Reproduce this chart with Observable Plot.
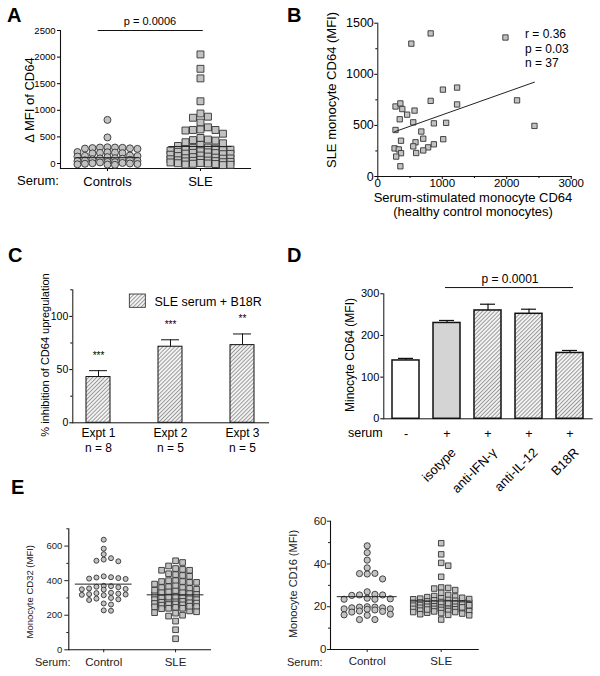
<!DOCTYPE html>
<html><head><meta charset="utf-8">
<script src="https://cdn.jsdelivr.net/npm/d3@7"></script>
<script src="https://cdn.jsdelivr.net/npm/@observablehq/plot@0.6"></script>
<style>
body{margin:0;background:#fff;}
#fig{position:relative;width:600px;height:676px;overflow:hidden;background:#fff;}
#fig > svg{position:absolute;}
</style></head><body><div id="fig"></div>
<script>
// ---------------- DATA ----------------
// Panel A
const groupsA = ["Controls", "SLE"];
const cd64Controls = [820, 490, 305, 300, 300, 295, 290, 285, 280, 275, 215, 210, 205, 200, 195, 190, 150, 145, 140, 130, 120, 100, 95, 90, 80, 70, 60, 50, 45, 30, 25, 20, 10, 5, 0, -5, -10, -15, -20, -25];
const cd64SLE = [2050, 1780, 1600, 1170, 940, 880, 860, 770, 680, 640, 630, 630, 620, 560, 480, 450, 440, 430, 400, 380, 350, 330,
  300, 290, 280, 270, 260, 250, 240, 230, 220, 210, 200, 195, 185, 180, 175, 165, 150, 140, 130, 120, 110, 100, 95, 90, 80, 70, 60, 55, 50, 45, 40, 30, 25, 20, 10, 5, 0, -5, -10, -20, -25, -30];
const centerA = [110, 320];
const pTextA = "p = 0.0006";
// Panel B
const bStimCD64 = [820, 520, 1980, 1010, 1230, 820, 1230, 2160, 2430, 275, 350, 380, 570, 455, 340, 550, 275, 870, 1060, 675, 360, 705, 585, 1015, 550, 870, 780, 260, 325, 705, 595, 360, 285, 350];
const bSLECD64 = [1400, 1300, 1360, 850, 870, 740, 705, 745, 495, 685, 715, 660, 645, 605, 560, 530, 455, 520, 525, 440, 350, 370, 335, 365, 295, 315, 285, 275, 265, 255, 230, 228, 195, 100];
const statsB = ["r = 0.36", "p = 0.03", "n = 37"];
// Panel C
const exptsC = ["Expt 1", "Expt 2", "Expt 3"];
const nC = ["n = 8", "n = 5", "n = 5"];
const inhibC = [43, 71.5, 73];
const semC = [6, 6.5, 10.5];
const starsC = ["***", "***", "**"];
// Panel D
const condsD = ["none", "isotype", "anti-IFN-\u03B3", "anti-IL-12", "B18R"];
const serumD = ["-", "+", "+", "+", "+"];
const meanD = [140, 230, 260, 252, 158];
const semD = [5, 6, 15, 11, 6];
const pLineD = [315];
const pTextD = "p = 0.0001";
// Panel E
const groupsE = ["Control", "SLE"];
const cd32Control = [637, 585, 553, 530, 522, 515, 512, 425, 420, 418, 415, 412, 410, 370, 368, 365, 362, 355, 352, 350, 348, 330, 328, 325, 322, 320, 318, 316, 300, 296, 292, 288, 268, 262, 228, 226];
const cd32SLE = [515, 505, 485, 470, 465, 460, 460, 440, 435, 430, 425, 400, 400, 395, 395, 390, 390, 370, 365, 360, 360, 355, 350,
  340, 335, 330, 330, 325, 320, 318, 300, 300, 295, 290, 290, 285, 282, 280, 275, 270, 268, 265, 262, 260, 258, 250, 248, 245, 240, 240, 238, 225, 220, 215, 212, 200, 195, 166, 116, 64, 310, 345, 380, 305, 272, 252];
const centerCD32 = [380, 318];
const cd16Control = [48.5, 45.3, 41.8, 38.2, 35.6, 35.3, 35.5, 33.0, 27.0, 25.8, 25.5, 25.5, 25.3, 24.0, 23.5, 23.5, 23.7, 20.0, 19.8, 19.5, 19.5, 19.0, 19.8, 19.0, 18.8, 18.5, 18.0, 17.5, 17.8, 16.5, 16.0, 16.2, 14.0, 14.0];
const cd16SLE = [49.7, 44.5, 40.5, 39.2, 34.0, 29.0, 28.8, 28.5, 27.8, 26.5, 25.5, 25.0, 24.8, 24.5, 24.0, 23.8, 23.5, 23.2, 23.0, 22.8, 22.5, 22.3, 22.0, 22.0, 21.8, 21.5, 21.5, 21.2, 21.0, 21.0, 20.8, 20.5, 20.5, 20.2, 20.0, 20.0, 19.8, 19.5, 19.5, 19.2, 19.0, 19.0, 18.8, 18.5, 18.5, 18.2, 18.0, 18.0, 17.8, 17.5, 17.5, 17.2, 17.0, 16.8, 16.5, 16.2, 16.0, 14.0, 22.2, 21.7, 20.7, 19.7, 23.6, 24.2, 18.7];
const centerCD16 = [24.7, 22.7];

// ---------------- HELPERS ----------------
const FONT = '"Liberation Sans", Arial, sans-serif';
const fmt = d3.format("d");
const fig = document.getElementById("fig");
const baseStyle = {fontFamily: FONT, fontSize: "10px", color: "#000", background: "none", overflow: "visible"};
function place(svg, left, top) { svg.style.left = left + "px"; svg.style.top = top + "px"; fig.append(svg); }
// simple column-scatter (beeswarm) layout in pixel space
function swarm(values, pxPerY, step, minDist, maxK) {
  const order = d3.range(values.length).sort((a, b) => values[b] - values[a]);
  const placed = [], out = new Array(values.length);
  for (const i of order) {
    const py = values[i] * pxPerY;
    let best = 0, bestD = -1;
    for (let k = 0; k <= 2 * maxK; k++) {
      const m = k === 0 ? 0 : (k % 2 ? (k + 1) / 2 : -k / 2);
      const px = m * step;
      let dmin = Infinity;
      for (const p of placed) dmin = Math.min(dmin, Math.hypot(p[0] - px, p[1] - py));
      if (dmin >= minDist) { best = px; bestD = Infinity; break; }
      if (dmin > bestD) { bestD = dmin; best = px; }
    }
    placed.push([best, py]);
    out[i] = best;
  }
  return out;
}
function columnPoints(values, g, geo, step, minDist, maxK) {
  const pxY = (geo.h - geo.mt - geo.mb) / (geo.y[1] - geo.y[0]);
  const pxX = (geo.w - geo.ml - geo.mr) / (geo.x[1] - geo.x[0]);
  const off = swarm(values, pxY, step, minDist, maxK);
  return values.map((v, i) => ({x: g + off[i] / pxX, v}));
}
function dotPlot(geo, groups, ctrl, sle, centers, opt) {
  const pc = columnPoints(ctrl, 0, geo, opt.stepC, opt.minC, opt.kC);
  const ps = columnPoints(sle, 1, geo, opt.stepS, opt.minS, opt.kS);
  return Plot.plot({
    width: geo.w, height: geo.h, marginLeft: geo.ml, marginRight: geo.mr, marginTop: geo.mt, marginBottom: geo.mb,
    x: {domain: geo.x}, y: {domain: geo.y},
    style: {...baseStyle, color: opt.color || "#000"},
    marks: [
      Plot.axisY({ticks: opt.yticks, tickSize: opt.yTickSize, tickPadding: opt.yPad, fontSize: opt.yFont, tickFormat: fmt, label: null}),
      ...(opt.yminor ? [Plot.axisY({ticks: opt.yminor, tickSize: 2, tickFormat: () => "", label: null})] : []),
      Plot.axisX({ticks: [0, 1], tickSize: 3, tickPadding: opt.xPad, fontSize: opt.xFont, tickFormat: i => groups[i], label: null}),
      Plot.frame({anchor: "left", stroke: "#111", strokeWidth: 1.1}),
      Plot.frame({anchor: "bottom", stroke: "#111", strokeWidth: 1.1}),
      Plot.dot(pc, {x: "x", y: "v", r: opt.rC, fill: "#c2c2c2", stroke: "#333", strokeWidth: 0.9}),
      Plot.dot(ps, {x: "x", y: "v", r: opt.rS, symbol: "square", fill: "#c2c2c2", stroke: "#333", strokeWidth: 0.9}),
      Plot.ruleY(centers, {x1: (d, i) => i - opt.half, x2: (d, i) => i + opt.half, stroke: "#222", strokeWidth: 1}),
      ...(opt.extra || [])
    ]
  });
}

// ---------------- PANEL A ----------------
const geoA = {w: 300, h: 220, ml: 60, mr: 50, mt: 30, mb: 52, y: [-94, 2500], x: [-0.505, 1.538]};
place(dotPlot(geoA, groupsA, cd64Controls, cd64SLE, centerA, {
  stepC: 7.5, minC: 6, kC: 4, stepS: 7.5, minS: 6.5, kS: 4, rC: 3.5, rS: 3.9, half: 0.34,
  yticks: [0, 500, 1000, 1500, 2000, 2500], yTickSize: 3, yPad: 2, yFont: 9.5, xFont: 13, xPad: 4.8,
  extra: [Plot.ruleY([2500], {x1: () => -0.1, x2: () => 1.03, stroke: "#111"})]
}), 0, 0);

// ---------------- PANEL B ----------------
const tableB = bStimCD64.map((x, i) => ({x, y: bSLECD64[i]}));
place(Plot.plot({
  width: 300, height: 220, marginLeft: 77.3, marginRight: 29.3, marginTop: 22.7, marginBottom: 44,
  x: {domain: [0, 3000]}, y: {domain: [0, 1500]}, style: baseStyle,
  marks: [
    Plot.axisY({ticks: [0, 500, 1000, 1500], tickSize: 3, tickPadding: 1, fontSize: 12.5, tickFormat: fmt, label: null}),
    Plot.axisY({ticks: [250, 750, 1250], tickSize: 2, tickFormat: () => "", label: null}),
    Plot.axisX({ticks: [0, 1000, 2000, 3000], tickSize: 3, tickPadding: -1, fontSize: 11.5, tickFormat: fmt, label: null}),
    Plot.axisX({ticks: [500, 1500, 2500], tickSize: 2, tickFormat: () => "", label: null}),
    Plot.frame({anchor: "left", stroke: "#111"}),
    Plot.frame({anchor: "bottom", stroke: "#111"}),
    Plot.dot(tableB, {x: "x", y: "y", symbol: "square", r: 3, fill: "#c2c2c2", stroke: "#333", strokeWidth: 0.9}),
    Plot.linearRegressionY(tableB, {x: "x", y: "y", ci: 0, stroke: "#222", strokeWidth: 1})
  ]
}), 300, 0);

// ---------------- PANEL C ----------------
const tableC = exptsC.map((e, i) => ({e, v: inhibC[i], top: inhibC[i] + semC[i], s: starsC[i]}));
place(Plot.plot({
  width: 300, height: 250, marginLeft: 72.3, marginRight: 32, marginTop: 69.3, marginBottom: 47.7,
  x: {type: "band", domain: exptsC, paddingInner: 0.669, paddingOuter: 0.179}, y: {domain: [0, 125]}, style: baseStyle,
  marks: [
    Plot.axisY({ticks: [0, 50, 100], tickSize: 3, tickPadding: 1.5, fontSize: 10.5, tickFormat: fmt, label: null}),
    Plot.axisY({ticks: [25, 75, 125], tickSize: 2, tickFormat: () => "", label: null}),
    Plot.axisX({tickSize: 0, tickPadding: 4, fontSize: 12, lineHeight: 1.25, tickFormat: d => d + "\n" + nC[exptsC.indexOf(d)], label: null}),
    Plot.frame({anchor: "left", stroke: "#111"}),
    Plot.frame({anchor: "bottom", stroke: "#111"}),
    Plot.ruleX(tableC, {x: "e", y1: "v", y2: "top", stroke: "#111"}),
    Plot.tickY(tableC, {x: "e", y: "top", insetLeft: 3, insetRight: 3, stroke: "#111"}),
    Plot.barY(tableC, {x: "e", y: "v", fill: "url(#hatch)", stroke: "#111", strokeWidth: 1}),
    Plot.text(tableC, {x: "e", y: "top", text: "s", dy: -12, lineAnchor: "bottom", fontSize: 10, fill: "#000"})
  ]
}), 0, 220);

// ---------------- PANEL D ----------------
const tableD = condsD.map((c, i) => ({c, v: meanD[i], top: meanD[i] + semD[i], s: serumD[i]}));
place(Plot.plot({
  width: 300, height: 250, marginLeft: 83.3, marginRight: 8.3, marginTop: 73.3, marginBottom: 51.7,
  x: {type: "band", domain: condsD, paddingInner: 0.34, paddingOuter: 0.16, axis: null}, y: {domain: [0, 300]},
  color: {domain: condsD, range: ["white", "#d4d4d4", "url(#hatch)", "url(#hatch)", "url(#hatch)"]},
  style: baseStyle,
  marks: [
    Plot.axisY({ticks: [0, 100, 200, 300], tickSize: 3, tickPadding: 1.5, fontSize: 11, tickFormat: fmt, label: null}),
    Plot.frame({anchor: "left", stroke: "#111"}),
    Plot.frame({anchor: "bottom", stroke: "#111"}),
    Plot.ruleX(tableD, {x: "c", y1: "v", y2: "top", stroke: "#111", strokeWidth: 1.2}),
    Plot.tickY(tableD, {x: "c", y: "top", insetLeft: 6, insetRight: 6, stroke: "#111", strokeWidth: 1.2}),
    Plot.barY(tableD, {x: "c", y: "v", fill: "c", stroke: "#111", strokeWidth: 1.5}),
    Plot.text(tableD, {x: "c", text: "s", frameAnchor: "bottom", dy: 19, lineAnchor: "bottom", fontSize: 12.5, fill: "#000"}),
    Plot.text(tableD.filter(d => d.c !== "none"), {x: "c", text: "c", frameAnchor: "bottom", dx: 3, dy: 28, rotate: -45, textAnchor: "end", lineAnchor: "top", fontSize: 13, fill: "#000"}),
    Plot.ruleY(pLineD, {x1: () => "isotype", x2: () => "B18R", insetLeft: 12, insetRight: 10, stroke: "#111"})
  ]
}), 300, 220);

// ---------------- PANEL E (left, CD32) ----------------
const geoE1 = {w: 220, h: 206, ml: 68.3, mr: 10, mt: 58.3, mb: 26.7, y: [0, 700], x: [-0.486, 1.486]};
place(dotPlot(geoE1, groupsE, cd32Control, cd32SLE, centerCD32, {
  stepC: 7.3, minC: 5.2, kC: 3, stepS: 7, minS: 5.2, kS: 3, rC: 2.5, rS: 3.2, half: 0.395,
  yticks: [0, 200, 400, 600], yminor: [100, 300, 500, 700], yTickSize: 4, yPad: 2.5, yFont: 9.5, xFont: 11.5, xPad: 5, color: "#222"
}), 0, 470);

// ---------------- PANEL E (right, CD16) ----------------
const geoE2 = {w: 240, h: 206, ml: 70, mr: 22.3, mt: 50.7, mb: 27, y: [0, 60], x: [-0.496, 1.5]};
place(dotPlot(geoE2, groupsE, cd16Control, cd16SLE, centerCD16, {
  stepC: 7.7, minC: 6, kC: 3, stepS: 7, minS: 5, kS: 4, rC: 3.1, rS: 3.1, half: 0.405,
  yticks: [0, 20, 40, 60], yminor: [10, 30, 50], yTickSize: 3, yPad: 1, yFont: 11.5, xFont: 11.5, xPad: 4.5, color: "#222"
}), 260, 470);

// ---------------- OVERLAY (labels, legend, pattern) ----------------
const ov = d3.select(fig).append("svg").attr("width", 600).attr("height", 676)
  .style("left", "0px").style("top", "0px").style("font-family", FONT).style("overflow", "visible");
const pat = ov.append("defs").append("pattern").attr("id", "hatch").attr("patternUnits", "userSpaceOnUse")
  .attr("width", 2.8).attr("height", 2.8).attr("patternTransform", "rotate(45)");
pat.append("rect").attr("width", 2.8).attr("height", 2.8).attr("fill", "#f2f2f2");
pat.append("line").attr("x1", 0).attr("y1", 0).attr("x2", 0).attr("y2", 2.8).attr("stroke", "#4a4a4a").attr("stroke-width", 1);
function t(txt, x, y, o = {}) {
  const e = ov.append("text").attr("x", x).attr("y", y).text(txt)
    .attr("font-size", o.size || 12).attr("text-anchor", o.anchor || "start").attr("fill", o.fill || "#000");
  if (o.bold) e.attr("font-weight", "bold");
  if (o.rot) e.attr("transform", `rotate(${o.rot},${x},${y})`);
  return e;
}
// panel letters
t("A", 7, 22, {size: 20, bold: true});
t("B", 287, 22, {size: 20, bold: true});
t("C", 8, 262, {size: 20, bold: true});
t("D", 287, 262, {size: 20, bold: true});
t("E", 11, 494, {size: 20, bold: true});
// A
t("\u0394 MFI of CD64", 34, 100, {size: 13, anchor: "middle", rot: -90});
t("Serum:", 17, 185, {size: 13});
t(pTextA, 150, 24.5, {size: 11, anchor: "middle"});
// B
t("SLE monocyte CD64 (MFI)", 336, 90, {size: 13, anchor: "middle", rot: -90});
t("Serum-stimulated monocyte CD64", 473, 202, {size: 13, anchor: "middle"});
t("(healthy control monocytes)", 473, 215.5, {size: 13, anchor: "middle"});
statsB.forEach((s, i) => t(s, 525, 38.3 + i * 14.5, {size: 12}));
// C
t("% inhibition of CD64 upregulation", 49, 355, {size: 11, anchor: "middle", rot: -90});
ov.append("rect").attr("x", 129.3).attr("y", 294).attr("width", 16).attr("height", 13.3)
  .attr("fill", "url(#hatch)").attr("stroke", "#222").attr("stroke-width", 0.8);
t("SLE serum + B18R", 154.5, 305.5, {size: 12.5});
// D
t("Minocyte CD64 (MFI)", 354, 355, {size: 12, anchor: "middle", rot: -90});
t(pTextD, 510, 282.5, {size: 12, anchor: "middle"});
t("serum", 348, 436.5, {size: 12.5});
// E
t("Monocyte CD32 (MFI)", 33.5, 591.7, {size: 9.5, anchor: "middle", rot: -90, fill: "#222"});
t("Serum:", 35, 666, {size: 11, fill: "#222"});
t("Monocyte CD16 (MFI)", 297, 584, {size: 11, anchor: "middle", rot: -90, fill: "#222"});
t("Serum:", 287, 666, {size: 11, fill: "#222"});
</script></body></html>
